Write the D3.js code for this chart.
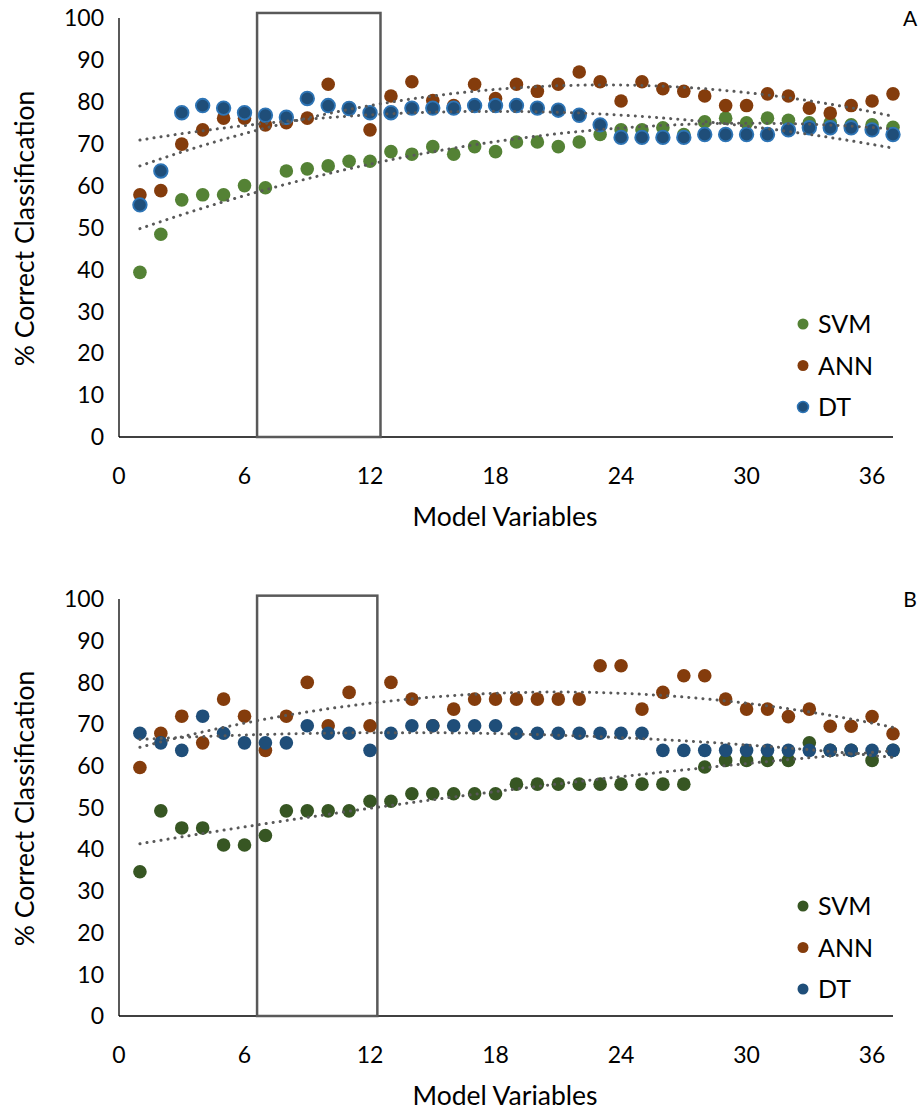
<!DOCTYPE html>
<html>
<head>
<meta charset="utf-8">
<script src="https://cdn.jsdelivr.net/npm/d3@7/dist/d3.min.js"></script>
<style>
  body { margin: 0; background: #fff; }
  text { font-family: Lato, "Open Sans", sans-serif; fill: #000; }
</style>
</head>
<body>
<script>
var w = 924;
var h = 1110;

// model variables 1..37
var vars = d3.range(1, 38);

// panel A
var svmA = [39.3, 48.4, 56.6, 57.8, 57.8, 60.0, 59.5, 63.5, 64.0, 64.7, 65.8, 65.8,
  68.1, 67.5, 69.3, 67.5, 69.3, 68.1, 70.4, 70.4, 69.3, 70.4, 72.2, 73.3, 73.3,
  73.8, 72.2, 75.2, 76.1, 75.0, 76.1, 75.6, 75.0, 75.0, 74.5, 74.5, 73.9];
var annA = [57.8, 58.8, 69.9, 73.3, 76.1, 76.1, 74.5, 75.0, 76.1, 84.2, 78.5, 73.3,
  81.4, 84.8, 80.3, 79.1, 84.2, 80.8, 84.2, 82.5, 84.2, 87.1, 84.8, 80.2, 84.8,
  83.1, 82.5, 81.4, 79.1, 79.1, 81.9, 81.4, 78.5, 77.3, 79.1, 80.2, 81.9];
var dtA = [55.4, 63.5, 77.4, 79.1, 78.5, 77.4, 76.8, 76.3, 80.8, 79.1, 78.4, 77.4,
  77.4, 78.5, 78.5, 78.5, 79.1, 79.1, 79.1, 78.5, 78.0, 76.8, 74.5, 71.5, 71.5,
  71.5, 71.5, 72.2, 72.2, 72.2, 72.2, 73.3, 73.8, 73.8, 73.8, 73.3, 72.2];

// panel B
var svmB = [34.6, 49.2, 45.1, 45.1, 41.0, 41.0, 43.3, 49.2, 49.2, 49.2, 49.2, 51.5,
  51.5, 53.3, 53.3, 53.3, 53.3, 53.3, 55.6, 55.6, 55.6, 55.6, 55.6, 55.6, 55.6,
  55.6, 55.6, 59.7, 61.3, 61.3, 61.3, 61.3, 65.5, 63.7, 63.7, 61.3, 63.7];
var annB = [59.6, 67.8, 71.9, 65.5, 76.0, 71.9, 63.7, 71.9, 80.0, 69.6, 77.6, 69.6,
  80.0, 76.0, 69.6, 73.6, 76.0, 76.0, 76.0, 76.0, 76.0, 76.0, 84.0, 84.0, 73.6,
  77.6, 81.6, 81.6, 76.0, 73.6, 73.6, 71.8, 73.6, 69.5, 69.5, 71.8, 67.7];
var dtB = [67.8, 65.5, 63.7, 71.9, 67.8, 65.5, 65.5, 65.5, 69.6, 67.8, 67.8, 63.7,
  67.8, 69.6, 69.6, 69.6, 69.6, 69.6, 67.8, 67.8, 67.8, 67.8, 67.8, 67.8, 67.8,
  63.7, 63.7, 63.7, 63.7, 63.7, 63.7, 63.7, 63.7, 63.7, 63.7, 63.7, 63.7];

var seriesNames = ["SVM", "ANN", "DT"];
var xTicks = [0, 6, 12, 18, 24, 30, 36];
var yTicks = [0, 10, 20, 30, 40, 50, 60, 70, 80, 90, 100];
var boxA = [6.6, 12.5, 101.2];
var boxB = [6.6, 12.35, 100.8];
var trendOrder = 2;

var svg = d3.select("body").append("svg")
  .attr("width", w)
  .attr("height", h);

// least squares polynomial fit (Excel style trendline)
function polyfit(xs, ys, order) {
  var n = order + 1;
  var A = [], b = [];
  for (var i = 0; i < n; i++) {
    A.push([]);
    for (var j = 0; j < n; j++) A[i].push(d3.sum(xs, function(x) { return Math.pow(x, i + j); }));
    b.push(d3.sum(xs, function(x, k) { return ys[k] * Math.pow(x, i); }));
  }
  // gaussian elimination
  for (var c = 0; c < n; c++) {
    for (var r = c + 1; r < n; r++) {
      var f = A[r][c] / A[c][c];
      for (var k = c; k < n; k++) A[r][k] -= f * A[c][k];
      b[r] -= f * b[c];
    }
  }
  var coef = new Array(n);
  for (var r2 = n - 1; r2 >= 0; r2--) {
    var s = b[r2];
    for (var k2 = r2 + 1; k2 < n; k2++) s -= A[r2][k2] * coef[k2];
    coef[r2] = s / A[r2][r2];
  }
  return function(x) {
    return d3.sum(coef, function(cf, i) { return cf * Math.pow(x, i); });
  };
}

function drawPanel(p) {
  var x = d3.scaleLinear().domain([0, 37]).range([119, 893]);
  var y = d3.scaleLinear().domain([0, 100]).range([p.y0, p.y100]);
  var g = svg.append("g");

  // axis lines
  g.append("line")
    .attr("x1", x(0)).attr("x2", x(0))
    .attr("y1", y(100)).attr("y2", y(0))
    .attr("stroke", "#000").attr("stroke-width", 1.3);
  g.append("line")
    .attr("x1", x(0)).attr("x2", x(37))
    .attr("y1", y(0)).attr("y2", y(0))
    .attr("stroke", "#000").attr("stroke-width", 1.3);

  g.selectAll(".ytick").data(yTicks).enter().append("text")
    .attr("x", 104)
    .attr("y", function(d) { return y(d); })
    .attr("dy", "0.36em")
    .attr("text-anchor", "end")
    .attr("font-size", 23)
    .text(function(d) { return d; });

  g.selectAll(".xtick").data(xTicks).enter().append("text")
    .attr("x", function(d) { return x(d); })
    .attr("y", y(0) + 39)
    .attr("dy", "0.36em")
    .attr("text-anchor", "middle")
    .attr("font-size", 23)
    .text(function(d) { return d; });

  g.append("text")
    .attr("x", 505)
    .attr("y", y(0) + 79)
    .attr("dy", "0.36em")
    .attr("text-anchor", "middle")
    .attr("font-size", 26.5)
    .text("Model Variables");

  g.append("text")
    .attr("transform", "translate(24," + (y(50) + 1) + ") rotate(-90)")
    .attr("dy", "0.36em")
    .attr("text-anchor", "middle")
    .attr("font-size", 26.5)
    .text("% Correct Classification");

  g.append("text")
    .attr("x", 910)
    .attr("y", y(100))
    .attr("dy", "0.36em")
    .attr("text-anchor", "middle")
    .attr("font-size", 21)
    .text(p.label);

  // highlighted range
  g.append("rect")
    .attr("x", x(p.box[0]))
    .attr("y", y(p.box[2]))
    .attr("width", x(p.box[1]) - x(p.box[0]))
    .attr("height", y(0) - y(p.box[2]))
    .attr("fill", "none")
    .attr("stroke", "#595959")
    .attr("stroke-width", 2.5);

  // points
  p.series.forEach(function(s) {
    g.append("g").selectAll("circle")
      .data(s.values)
      .enter().append("circle")
      .attr("cx", function(d, i) { return x(vars[i]); })
      .attr("cy", function(d) { return y(d); })
      .attr("r", 6.8)
      .attr("fill", s.color)
      .attr("stroke", s.stroke || "none")
      .attr("stroke-width", s.stroke ? 1.8 : 0);
  });

  // dotted polynomial trendlines
  var line = d3.line()
    .x(function(d) { return x(d[0]); })
    .y(function(d) { return y(d[1]); });
  p.series.forEach(function(s) {
    var fit = polyfit(vars, s.values, trendOrder);
    var pts = d3.range(1, 37.01, 0.25).map(function(v) { return [v, fit(v)]; });
    g.append("path")
      .attr("d", line(pts))
      .attr("fill", "none")
      .attr("stroke", "#595959")
      .attr("stroke-width", 3)
      .attr("stroke-linecap", "round")
      .attr("stroke-dasharray", "0.1 7");
  });

  // legend
  var lg = g.selectAll(".leg").data(p.series).enter().append("g")
    .attr("transform", function(d, i) { return "translate(803," + (p.legendY + i * 41.5) + ")"; });
  lg.append("circle")
    .attr("r", 5.5)
    .attr("fill", function(d) { return d.color; })
    .attr("stroke", function(d) { return d.stroke || "none"; })
    .attr("stroke-width", function(d) { return d.stroke ? 1.5 : 0; });
  lg.append("text")
    .attr("x", 15)
    .attr("dy", "0.36em")
    .attr("font-size", 25)
    .text(function(d) { return d.name; });
}

drawPanel({
  label: "A", y0: 437, y100: 18, box: boxA, legendY: 324,
  series: [
    { name: seriesNames[0], values: svmA, color: "#548235" },
    { name: seriesNames[1], values: annA, color: "#843C0C" },
    { name: seriesNames[2], values: dtA, color: "#1F4E79", stroke: "#2E75B6" }
  ]
});

drawPanel({
  label: "B", y0: 1016, y100: 599, box: boxB, legendY: 906,
  series: [
    { name: seriesNames[0], values: svmB, color: "#375623" },
    { name: seriesNames[1], values: annB, color: "#843C0C" },
    { name: seriesNames[2], values: dtB, color: "#1F4E79" }
  ]
});
</script>
</body>
</html>
